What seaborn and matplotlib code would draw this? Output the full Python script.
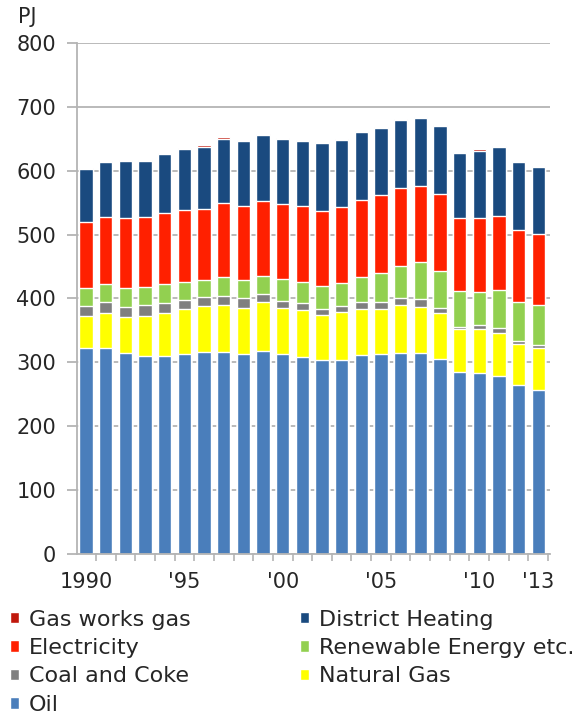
import numpy as np
import pandas as pd
import seaborn as sns
import matplotlib.pyplot as plt
from matplotlib.ticker import FixedLocator, NullFormatter

# final energy consumption by source, PJ, 1990-2013
years = list(range(1990, 2014))
oil = [322, 322, 314, 310.5, 310.5, 312.6, 316.2, 316.7, 312.6, 318.3, 312.6, 309,
       303.7, 303.7, 311, 312.6, 314.7, 314.7, 305.3, 284.4, 282.8, 279, 264.6, 257]
natural_gas = [50.6, 54.8, 56.5, 62.1, 66.3, 71.0, 71.6, 73.2, 73.1, 76.7, 73.1, 72.5,
               70.5, 74.7, 72.6, 71.4, 75.2, 72.5, 71.5, 67.9, 69.5, 67.5, 63.7, 65]
coal = [16.2, 17.7, 16.5, 16.7, 15.6, 14.6, 14.0, 14.5, 14.6, 11.5, 10.9, 12.0,
        9.4, 9.4, 11.4, 11.0, 10.4, 11.5, 8.8, 3.6, 5.7, 7.3, 5.7, 5.2]
renewable = [28.2, 28.0, 30.0, 29.4, 30.3, 28.2, 26.7, 29.6, 28.2, 29.3, 33.9, 32.9,
             35.4, 36.2, 39.2, 44.4, 50.6, 57.9, 58.0, 55.8, 51.7, 59.5, 60.5, 62.1]
electricity = [103.3, 105.1, 109, 108.9, 110.7, 112.6, 112.1, 116, 116.3, 116.4, 117.9, 118.4,
               118, 118.7, 120, 122.1, 121.6, 119.5, 120, 114.3, 116.3, 116.4, 112.7, 112.2]
district_heating = [81.7, 85.4, 89, 87.4, 92.6, 95, 96.9, 100, 101.2, 103.3, 100.6, 101.2,
                    106, 105.3, 105.8, 104.5, 106.5, 105.9, 105.9, 102, 105.5, 107.6, 106.6, 104.5]
gas_works = [2.0, 2.0, 2.0, 2.0, 2.0, 2.0, 2.0, 2.0, 2.0, 2.0, 2.0, 2.0,
             2.0, 2.0, 2.0, 2.0, 2.0, 2.0, 1.8, 1.8, 1.8, 1.8, 1.6, 1.5]

tick_years = [1990, 1995, 2000, 2005, 2010, 2013]
tick_labels = ['1990', "'95", "'00", "'05", "'10", "'13"]

# bottom to top
series = [('Oil', oil, '#4a7ebb'),
          ('Natural Gas', natural_gas, '#ffff00'),
          ('Coal and Coke', coal, '#7f7f7f'),
          ('Renewable Energy etc.', renewable, '#92d050'),
          ('Electricity', electricity, '#ff2000'),
          ('District Heating', district_heating, '#1a4a7f'),
          ('Gas works gas', gas_works, '#c0180c')]

df = pd.DataFrame({name: vals for name, vals, _ in series}, index=years)
cum = df.cumsum(axis=1)

sns.set_theme(style='white')
plt.rcParams['font.family'] = ['DejaVu Sans']
txt = '#262626'

fig = plt.figure(figsize=(5.87, 7.14), dpi=100)
ax = fig.add_axes([0.131, 0.224, 0.806, 0.716])

# stacked look: draw cumulative totals from the top layer down
for name, _, color in reversed(series):
    sns.barplot(x=cum.index.astype(str), y=cum[name].values, color=color, saturation=1,
                width=0.68, errorbar=None, label=name, ax=ax, zorder=3)

ax.set_ylim(0, 800)
ax.set_xlim(-0.47, 23.6)
ax.set_yticks(np.arange(0, 801, 100))
ax.yaxis.grid(True, color='#b4b4b4', linewidth=1.3, zorder=0)
ax.set_axisbelow(True)
for s in ['top', 'right']:
    ax.spines[s].set_visible(False)
for s in ['left', 'bottom']:
    ax.spines[s].set_color('#b4b4b4')
    ax.spines[s].set_linewidth(1.3)
    ax.spines[s].set_zorder(4)

ax.set_xticks([years.index(y) for y in tick_years])
ax.set_xticklabels(tick_labels)
ax.xaxis.set_minor_locator(FixedLocator(np.arange(-0.5, 24, 1)))
ax.xaxis.set_minor_formatter(NullFormatter())
ax.tick_params(axis='x', which='major', length=0, pad=13, labelsize=15, labelcolor=txt)
ax.tick_params(axis='x', which='minor', length=5, width=1.2, color='#b4b4b4', direction='out', bottom=True)
ax.tick_params(axis='y', length=7, width=1.3, color='#b4b4b4', left=True, pad=8,
               labelsize=15, labelcolor=txt)
ax.set_xlabel('')
ax.set_ylabel('')

fig.text(18 / 587, 1 - 17 / 714, 'PJ', fontsize=15, color=txt, va='center', ha='left')

handles, labels = ax.get_legend_handles_labels()
ax.get_legend().remove()
lookup = dict(zip(labels, handles))
order = ['Gas works gas', 'Electricity', 'Coal and Coke', 'Oil',
         'District Heating', 'Renewable Energy etc.', 'Natural Gas']
fig.legend([lookup[o] for o in order], order, loc='upper left', bbox_to_anchor=(-0.01, 0.168),
           ncol=2, frameon=False, fontsize=16, labelcolor=txt, handlelength=0.4,
           handleheight=0.4, handletextpad=0.45, labelspacing=0.38, columnspacing=4.95,
           borderaxespad=0.3)

fig.savefig('out.png', dpi=100)
